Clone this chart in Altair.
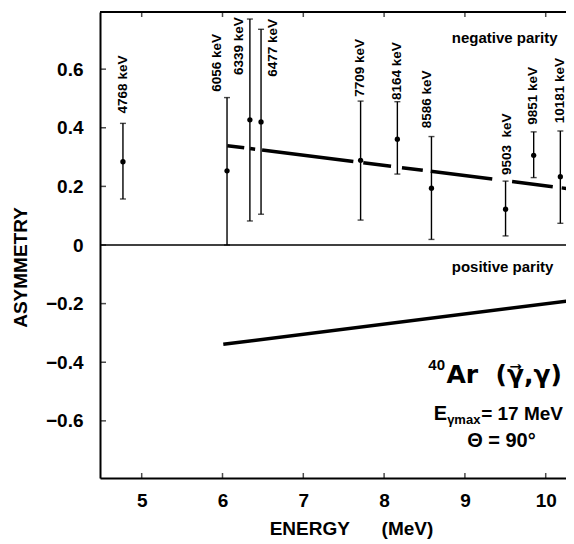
import altair as alt
import pandas as pd

# ---- data ----
energy = [4.768, 6.056, 6.339, 6.477, 7.709, 8.164, 8.586, 9.503, 9.851, 10.181]
asym = [0.284, 0.253, 0.427, 0.420, 0.289, 0.361, 0.194, 0.122, 0.306, 0.233]
err_hi = [0.415, 0.503, 0.771, 0.736, 0.491, 0.489, 0.370, 0.218, 0.386, 0.389]
err_lo = [0.157, 0.000, 0.082, 0.105, 0.085, 0.242, 0.019, 0.031, 0.230, 0.074]

level_labels = ["4768 keV", "6056 keV", "6339 keV", "6477 keV", "7709 keV",
                "8164 keV", "8586 keV", "9503\u00a0\u00a0keV", "9851 keV", "10181 keV"]
label_x = [4.769, 5.928, 6.204, 6.621, 7.702, 8.156, 8.527, 9.517, 9.847, 10.177]
label_y = [0.449, 0.523, 0.580, 0.574, 0.506, 0.495, 0.398, 0.239, 0.410, 0.415]

neg_line_x = [6.06, 10.34]
neg_line_y = [0.339, 0.190]
pos_line_x = [6.01, 10.34]
pos_line_y = [-0.339, -0.189]

x_ticks = [5, 6, 7, 8, 9, 10]
y_ticks = [-0.6, -0.4, -0.2, 0, 0.2, 0.4, 0.6]

X_MIN, X_MAX = 4.484, 10.251
Y_MIN, Y_MAX = -0.795, 0.795

FONT = "Liberation Sans"

xs = alt.Scale(domain=[X_MIN, X_MAX], nice=False, zero=False)
ys = alt.Scale(domain=[Y_MIN, Y_MAX], nice=False, zero=False)

axis_x = alt.Axis(
    values=x_ticks, ticks=False, grid=False, format="d",
    labelFont=FONT, labelFontSize=19, labelFontWeight="bold", labelColor="black",
    labelPadding=13, domainColor="black", domainWidth=2,
    title="ENERGY\u00a0\u00a0\u00a0\u00a0\u00a0\u00a0(MeV)", titleFont=FONT, titleFontSize=19,
    titleFontWeight="bold", titleColor="black", titleX=251, titleY=50,
    titleBaseline="middle", titleAlign="center")
axis_y = alt.Axis(
    values=y_ticks, ticks=False, grid=False,
    labelExpr="datum.value == 0 ? '0' : format(datum.value, '.1f')",
    labelFont=FONT, labelFontSize=19, labelFontWeight="bold", labelColor="black",
    labelPadding=17, domainColor="black", domainWidth=2,
    title="ASYMMETRY", titleFont=FONT, titleFontSize=19, titleFontWeight="bold",
    titleColor="black", titleAngle=270, titleX=-80, titleY=255,
    titleBaseline="middle", titleAlign="center")


def X(f="x"):
    return alt.X(f, type="quantitative", scale=xs, axis=axis_x)


def Y(f="y"):
    return alt.Y(f, type="quantitative", scale=ys, axis=axis_y)


pts = pd.DataFrame({"x": energy, "y": asym, "lo": err_lo, "hi": err_hi})
lab = pd.DataFrame({"x": label_x, "y": label_y, "t": level_labels})
neg = pd.DataFrame({"x": neg_line_x, "y": neg_line_y})
pos = pd.DataFrame({"x": pos_line_x, "y": pos_line_y})
ytk = pd.DataFrame({"x": [X_MIN] * len(y_ticks), "y": y_ticks})
xtk_b = pd.DataFrame({"x": x_ticks, "y": [Y_MIN] * len(x_ticks)})
xtk_t = pd.DataFrame({"x": x_ticks, "y": [Y_MAX] * len(x_ticks)})
hlines = pd.DataFrame({"x": [X_MIN, X_MIN], "x2": [X_MAX, X_MAX], "y": [0.0, Y_MAX], "w": [1.5, 2.0]})

ann = pd.DataFrame([
    {"x": 8.837, "y": 0.7075, "t": "negative parity"},
    {"x": 8.837, "y": -0.074, "t": "positive parity"},
])
ann_r = [
    {"x": 8.754, "y": -0.410, "t": "40", "s": 15, "a": "right", "b": "middle"},
    {"x": 8.778, "y": -0.597, "t": "E", "s": 20, "a": "right", "b": "alphabetic"},
    {"x": 8.780, "y": -0.611, "t": "\u03b3max", "s": 13, "a": "left", "b": "alphabetic"},
    {"x": 10.214, "y": -0.597, "t": "= 17 MeV", "s": 19, "a": "right", "b": "alphabetic"},
    {"x": 9.452, "y": -0.688, "t": "\u0398 = 90\u00b0", "s": 20, "a": "center", "b": "alphabetic"},
]
title_df = pd.DataFrame([{"x": 10.200, "y": -0.471, "t": "Ar\u00a0\u00a0(\u03b3\u20d7,\u03b3)"}])

points = alt.Chart(pts).mark_circle(size=28, color="black", opacity=1).encode(x=X(), y=Y())

bars = alt.Chart(pts).mark_rule(color="black", strokeWidth=1.4).encode(
    x=X(), y=Y("lo"), y2="hi")
cap_hi = alt.Chart(pts).mark_tick(color="black", orient="horizontal", size=6, thickness=1.4).encode(
    x=X(), y=Y("hi"))
cap_lo = alt.Chart(pts).mark_tick(color="black", orient="horizontal", size=6, thickness=1.4).encode(
    x=X(), y=Y("lo"))

labels = alt.Chart(lab).mark_text(angle=270, align="left", baseline="middle", font=FONT,
                                  fontSize=13.5, fontWeight="bold", color="black").encode(
    x=X(), y=Y(), text="t")

neg_line = alt.Chart(neg).mark_line(color="black", strokeWidth=3.5, clip=True,
                                    strokeDash=[17, 6, 5, 7, 92, 10, 28, 11, 21, 8, 62, 20, 41, 9, 30]).encode(
    x=X(), y=Y())
pos_line = alt.Chart(pos).mark_line(color="black", strokeWidth=3.5, clip=True).encode(
    x=X(), y=Y())

rules = alt.Chart(hlines).mark_rule(color="black").encode(
    x=X(), x2="x2", y=Y(), strokeWidth=alt.StrokeWidth("w:Q", scale=None))

ytick_m = alt.Chart(ytk).mark_tick(color="black", orient="horizontal", size=12, thickness=1.5, clip=True).encode(
    x=X(), y=Y())
xtick_b = alt.Chart(xtk_b).mark_tick(color="black", orient="vertical", size=10, thickness=1.5, clip=True).encode(
    x=X(), y=Y())
xtick_t = alt.Chart(xtk_t).mark_tick(color="black", orient="vertical", size=10, thickness=1.5, clip=True).encode(
    x=X(), y=Y())

parity = alt.Chart(ann).mark_text(font=FONT, fontWeight="bold", color="black", clip=True,
                                  align="left", baseline="middle", fontSize=15).encode(
    x=X(), y=Y(), text="t")


def ann_layer(row):
    return alt.Chart(pd.DataFrame([row])).mark_text(
        font=FONT, fontWeight="bold", color="black", align=row["a"], baseline=row["b"],
        fontSize=row["s"]).encode(x=X(), y=Y(), text="t")


ann_layers = [ann_layer(r) for r in ann_r]

big_title = alt.Chart(title_df).mark_text(font="DejaVu Sans", fontWeight="bold", color="black",
                                          align="right", baseline="alphabetic", fontSize=25).encode(
    x=X(), y=Y(), text="t")

chart = alt.layer(
    points, rules, ytick_m, xtick_b, xtick_t, bars, cap_hi, cap_lo,
    neg_line, pos_line, labels, parity, big_title, *ann_layers
).properties(
    width=466, height=466,
    padding={"left": 92, "top": 4, "right": 0, "bottom": 62},
    autosize=alt.AutoSizeParams(type="none"),
).configure_view(stroke=None).configure(background="white")

chart.save("out.html", embed_options={"renderer": "svg", "actions": False})
